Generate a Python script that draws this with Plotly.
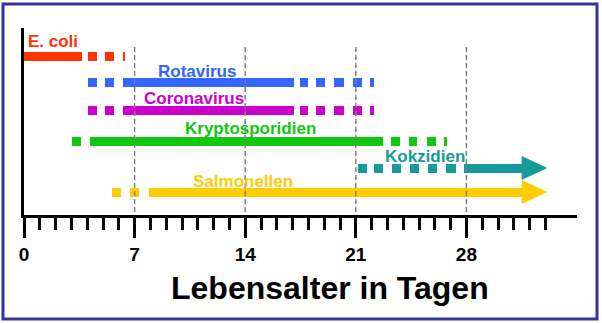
import plotly.graph_objects as go

# ---------------- data (days of life) ----------------
pathogens = ["E. coli", "Rotavirus", "Coronavirus", "Kryptosporidien", "Kokzidien", "Salmonellen"]
colors = ["#ff3300", "#3366ff", "#cc00cc", "#11c811", "#169a9a", "#ffcc00"]

ecoli_segments = [(0.0, 3.7), (4.04, 4.63), (5.11, 5.68), (6.28, 6.38)]
rota_segments = [(4.04, 4.63), (5.15, 5.68), (6.28, 17.08), (17.44, 17.99), (18.51, 19.08),
                 (19.65, 20.24), (20.81, 21.38), (21.93, 22.14)]
corona_segments = [(4.04, 4.63), (5.15, 5.68), (6.28, 17.08), (17.44, 17.99), (18.51, 19.08),
                   (19.65, 20.24), (20.81, 21.38), (21.93, 22.14)]
krypto_segments = [(3.05, 3.62), (4.17, 22.7), (23.2, 23.8), (24.35, 24.9), (25.5, 26.05), (26.6, 26.8)]
kokz_segments = [(21.11, 21.68), (22.17, 22.74), (23.32, 23.89), (24.46, 25.03), (25.6, 26.17),
                 (26.74, 27.31), (27.82, 31.6)]
salm_segments = [(5.6, 6.17), (6.74, 7.25), (7.88, 31.6)]
segments = [ecoli_segments, rota_segments, corona_segments, krypto_segments, kokz_segments, salm_segments]

# arrow: (start of head, tip) in days; None = no arrow
arrows = [None, None, None, None, (31.5, 33.13), (31.5, 33.13)]

major_ticks = [0, 7, 14, 21, 28]
minor_ticks = [d for d in range(1, 34) if d not in major_ticks]
tick_labels = ["0", "7", "14", "21", "28"]
x_title = "Lebensalter in Tagen"

# ---------------- layout / style ----------------
W, H = 602, 323
L, R, T, B = 24, 25, 28, 108
row_y = [56, 82, 110, 141, 168, 192]            # pixel rows
label_pos = [(0.15, 41, "left"), (10.98, 71, "center"), (10.73, 98, "center"),
             (14.34, 128, "center"), (25.35, 156, "center"), (13.89, 181, "center")]
bar_thick = 9
head_half = 12
FONT = "Liberation Sans, Arial, sans-serif"

fig = go.Figure()
for name, col, segs, yy, arr in zip(pathogens, colors, segments, row_y, arrows):
    fig.add_trace(go.Bar(
        orientation="h",
        y=[yy] * len(segs),
        base=[s for s, e in segs],
        x=[e - s for s, e in segs],
        width=bar_thick,
        marker=dict(color=col, line=dict(width=0)),
        name=name, showlegend=False, hoverinfo="skip",
    ))
    if arr is not None:
        hs, tip = arr
        fig.add_trace(go.Scatter(
            x=[hs, tip, hs, hs], y=[yy - head_half, yy, yy + head_half, yy - head_half],
            mode="lines", fill="toself", fillcolor=col, line=dict(width=0, color=col),
            showlegend=False, hoverinfo="skip",
        ))

annotations = []
for name, col, (lx, ly, anc) in zip(pathogens, colors, label_pos):
    annotations.append(dict(x=lx, y=ly, xref="x", yref="y", text="<b>%s</b>" % name,
                            showarrow=False, xanchor=anc, yanchor="middle",
                            font=dict(family=FONT, size=17, color=col)))

def paper_x(px):
    return (px - L) / (W - L - R)

def paper_y(py):
    return (H - py - B) / (H - T - B)

annotations.append(dict(x=paper_x(330), y=paper_y(288), xref="paper", yref="paper",
                        text="<b>%s</b>" % x_title, showarrow=False,
                        xanchor="center", yanchor="middle",
                        font=dict(family=FONT, size=32, color="black")))

shapes = []
for d in major_ticks[1:]:
    shapes.append(dict(type="line", xref="x", yref="y", x0=d, x1=d, y0=47, y1=215,
                       line=dict(color="#808080", width=1.5, dash="5px,3px"), layer="above"))
shapes.append(dict(type="rect", xref="paper", yref="paper",
                   x0=paper_x(3), x1=paper_x(597), y0=paper_y(319), y1=paper_y(4),
                   line=dict(color="#333399", width=3), layer="above"))

fig.update_layout(
    width=W, height=H, margin=dict(l=L, r=R, t=T, b=B),
    paper_bgcolor="white", plot_bgcolor="white",
    barmode="overlay", bargap=0,
    annotations=annotations, shapes=shapes,
    xaxis=dict(range=[0, 35], showgrid=False, zeroline=False,
               showline=True, linecolor="black", linewidth=2.5,
               tickmode="array", tickvals=major_ticks, ticktext=["<b>%s</b>" % t for t in tick_labels],
               ticks="outside", ticklen=20, tickwidth=2.5, tickcolor="black",
               ticklabelstandoff=0,
               tickfont=dict(family=FONT, size=19, color="black"),
               minor=dict(tickmode="array", tickvals=minor_ticks, ticks="outside", ticklen=12,
                          tickwidth=2.5, tickcolor="black", showgrid=False),
               fixedrange=True),
    yaxis=dict(range=[215, 28], showgrid=False, zeroline=False, showline=True,
               linecolor="black", linewidth=2.5, showticklabels=False, ticks="",
               fixedrange=True),
    font=dict(family=FONT),
)

fig.write_html("out.html")
